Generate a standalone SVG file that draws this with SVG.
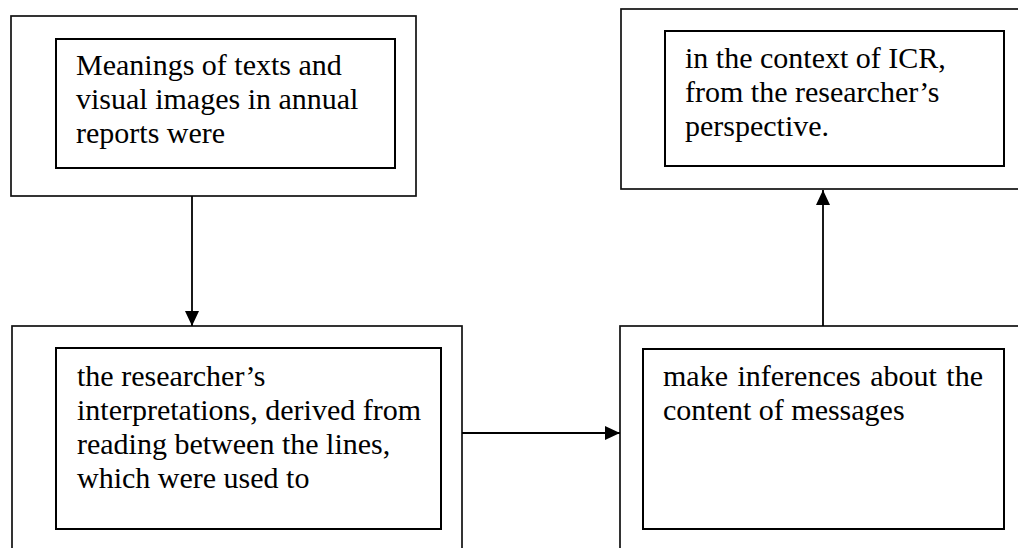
<svg xmlns="http://www.w3.org/2000/svg" width="1018" height="548" viewBox="0 0 1018 548">
<style>
.outer{fill:none;stroke:#111;stroke-width:1.7}
.inner{fill:none;stroke:#000;stroke-width:2}
.t{font-family:"Liberation Serif","Times New Roman",serif;font-size:30px;fill:#000}
.conn{stroke:#000;stroke-width:1.8;fill:none}
</style>
<defs>
<marker id="ah" markerUnits="userSpaceOnUse" markerWidth="15" markerHeight="14" refX="15" refY="7" orient="auto">
<path d="M0,0 L15,7 L0,14 Z" fill="#000"/>
</marker>
</defs>
<rect width="1018" height="548" fill="#fff"/>
<g id="node1">
<rect class="outer" x="11" y="16" width="405" height="180"/>
<rect class="inner" x="56" y="39" width="339" height="129"/>
<text class="t"><tspan x="76" y="75">Meanings of texts and</tspan><tspan x="76" y="109">visual images in annual</tspan><tspan x="76" y="143">reports were</tspan></text>
</g>
<g id="node2">
<rect class="outer" x="621" y="9" width="420" height="180"/>
<rect class="inner" x="665" y="31" width="339" height="135"/>
<text class="t"><tspan x="685" y="68">in the context of ICR,</tspan><tspan x="685" y="102">from the researcher’s</tspan><tspan x="685" y="136">perspective.</tspan></text>
</g>
<g id="node3">
<rect class="outer" x="12" y="326" width="450" height="240"/>
<rect class="inner" x="56" y="348" width="385" height="181"/>
<text class="t"><tspan x="77" y="386">the researcher’s</tspan><tspan x="77" y="420">interpretations, derived from</tspan><tspan x="77" y="454">reading between the lines,</tspan><tspan x="77" y="488">which were used to</tspan></text>
</g>
<g id="node4">
<rect class="outer" x="620" y="326" width="420" height="240"/>
<rect class="inner" x="643" y="349" width="361" height="180"/>
<text class="t"><tspan x="663" y="386" word-spacing="2">make inferences about the</tspan><tspan x="663" y="420">content of messages</tspan></text>
</g>
<g id="connectors">
<line class="conn" x1="192" y1="196" x2="192" y2="326" marker-end="url(#ah)"/>
<line class="conn" x1="462" y1="433" x2="620" y2="433" marker-end="url(#ah)"/>
<line class="conn" x1="823" y1="326" x2="823" y2="190" marker-end="url(#ah)"/>
</g>
</svg>
